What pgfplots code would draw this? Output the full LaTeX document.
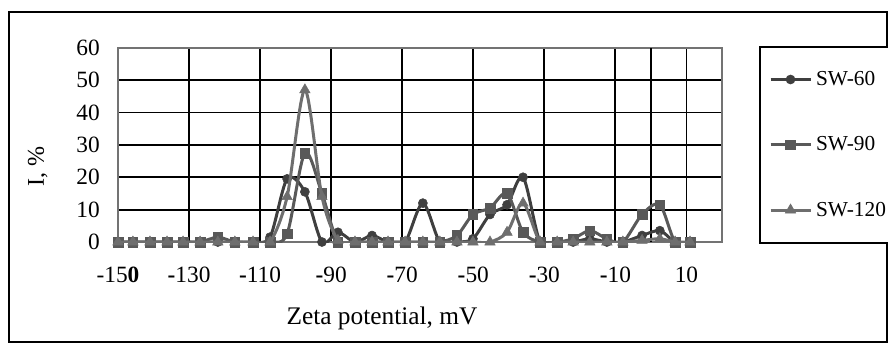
\documentclass[border=0pt]{standalone}
\usepackage{pgfplots}
\pgfplotsset{compat=1.18}
\usepackage{pgfplotstable}
\usepackage{fontspec}
\setmainfont{Liberation Serif}
\definecolor{cSixty}{HTML}{3F3F3F}
\definecolor{cNinety}{HTML}{595959}
\definecolor{cOneTwenty}{HTML}{6E6E6E}
\definecolor{cBorder}{HTML}{737373}
\newcommand\xl[1]{\rule{0pt}{29.8pt}#1}
\pgfplotstableread{
x      a     b     c
-150   0     0     0
-145.8 0     0     0
-141.0 0     0     0
-136.2 0     0     0
-131.7 0     0     0
-126.9 0     0     0
-121.9 0     1.5   0
-117.1 0     0     0
-112.0 0     0     0
-107.2 1.5   0     0
-102.4 19.5  2.5   14
-97.4  15.5  27.5  47
-92.6  0     15    14
-88.1  3     0     0.5
-83.3  0     0     0
-78.5  2     0     0
-74.0  0     0     0
-69.2  0     0     0
-64.2  12    0     0
-59.4  0     0     0
-54.6  0     2     0
-50.1  1     8.5   0
-45.3  8.5   10.5  0
-40.5  11.5  15    3
-36.0  20    3     12
-31.2  0     0     0
-26.4  0     0     0
-21.9  0     1     0
-17.2  1     3.5   0
-12.4  0     1     0
-7.9   0     0     0
-2.5   2     8.5   0.5
2.5    3.5   11.5  1
6.8    0     0     0
11.0   0     0     0
}\zetadata
\begin{document}
\begin{tikzpicture}
\path[use as bounding box] (0,0) rectangle (666pt,258pt);
\draw[black, line width=1.1pt] (6.75pt,1.5pt) rectangle (665.25pt,249pt);
\begin{axis}[
  at={(88.5pt,76.5pt)}, anchor=south west,
  scale only axis, width=453pt, height=145.7pt,
  xmin=-150, xmax=20, ymin=0, ymax=60,
  xtick={-150,-130,-110,-90,-70,-50,-30,-10,10},
  xticklabels={\xl{-15\textbf{0}},\xl{\textbf{-}130},\xl{\textbf{-}110},\xl{\textbf{-}90},\xl{\textbf{-}70},\xl{\textbf{-}50},\xl{\textbf{-}30},\xl{\textbf{-}10},\xl{10}},
  ytick={0,10,...,60},
  grid=major,
  major grid style={black, line width=1.4pt},
  major tick length=0pt,
  axis line style={cBorder, line width=1.5pt},
  extra x ticks={0}, extra x tick labels={},
  extra x tick style={grid=major},
  /pgf/number format/assume math mode=true,
  tick label style={font=\fontsize{17.5pt}{21pt}\selectfont},
  xticklabel style={anchor=north, inner sep=0pt},
  yticklabel style={anchor=east, inner sep=0pt, xshift=-13.5pt},
  xlabel={Zeta potential, mV},
  xlabel style={at={(axis description cs:0.437,-0.391)}, anchor=center, font=\fontsize{19pt}{23pt}\selectfont},
  ylabel={I, \%},
  ylabel style={at={(axis description cs:-0.133,0.391)}, anchor=center, font=\fontsize{18pt}{22pt}\selectfont},
  clip mode=individual,
  legend style={at={(1.0613,1.0103)}, anchor=north west, draw=black, line width=1.5pt, fill=white,
    inner xsep=0pt, inner ysep=18.5pt, row sep=36.8pt, column sep=3pt,
    nodes={inner sep=0pt},
    font=\fontsize{16pt}{19pt}\selectfont},
  legend cell align=left,
  legend image code/.code={
    \path (-6.75pt,0pt);
    \draw[mark repeat=2,mark phase=2,#1] plot coordinates {(0pt,0pt)(15pt,0pt)(30pt,0pt)};
  },
]
\addplot[cSixty, line width=2.25pt, smooth, tension=0.5, mark=*, mark size=3.4pt, mark options={solid, line width=0.4pt, fill=cSixty}] table[x=x,y=a]{\zetadata};
\addlegendentry{\makebox[56.25pt][l]{SW-60}}
\addplot[cNinety, line width=2.25pt, smooth, tension=0.5, mark=square*, mark size=3.6pt, mark options={solid, line width=0.4pt, fill=cNinety}] table[x=x,y=b]{\zetadata};
\addlegendentry{\makebox[56.25pt][l]{SW-90}}
\addplot[cOneTwenty, line width=2.25pt, smooth, tension=0.5, mark=triangle*, mark size=4.5pt, mark options={solid, line width=0.4pt, fill=cOneTwenty}] table[x=x,y=c]{\zetadata};
\addlegendentry{\makebox[56.25pt][l]{SW-120}}
\end{axis}
\end{tikzpicture}
\end{document}
